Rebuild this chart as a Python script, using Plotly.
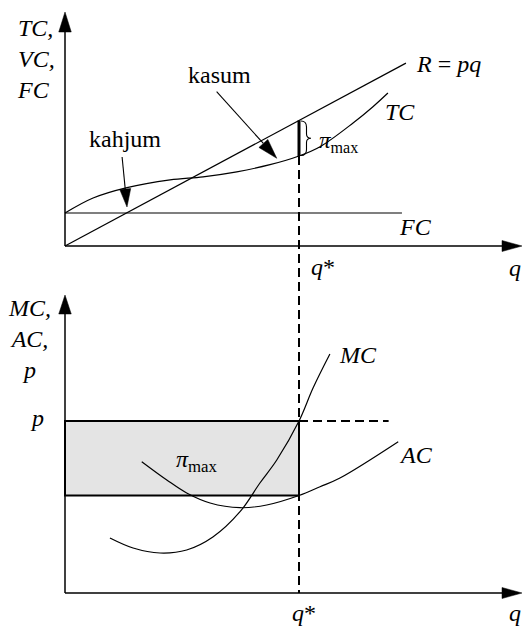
import plotly.graph_objects as go

# ---------------- data (q* = 10; values in arbitrary chart units) ----------------
q_star = 10.0
q_axis_end = 19.53          # end of both q axes
top_axis_end = 23.4         # top of the TC,VC,FC axis
bot_axis_end = 29.8         # top of the MC,AC,p axis

# Top panel
fc_q = [0.0, 14.4]
fc_v = [3.3, 3.3]
r_q = [0.0, 14.57]
r_v = [0.0, 18.29]
tc_q = [0.0, 1.20, 2.65, 4.49, 5.90, 7.34, 8.76, 10.0, 10.90, 12.31, 13.16, 13.80]
tc_v = [3.3, 4.8, 5.84, 6.61, 6.92, 7.42, 8.13, 9.0, 9.93, 12.3, 13.93, 15.3]

# Bottom panel
price_p = 17.2
p_dash_end = 13.83
ac_q = [3.28, 4.35, 5.20, 6.20, 7.48, 8.62, 10.0, 10.90, 11.75, 14.24]
ac_v = [13.13, 11.3, 10.0, 9.0, 8.53, 8.8, 9.75, 10.63, 11.5, 15.13]
mc_q = [1.92, 2.91, 4.06, 5.20, 6.32, 7.48, 8.33, 9.05, 10.0, 10.60, 11.32]
mc_v = [5.5, 4.5, 4.0, 4.3, 5.6, 8.13, 11.0, 13.3, 17.2, 20.5, 23.9]

# arrows for "kahjum" / "kasum" (tail -> tip, top-panel units)
kahjum_tail, kahjum_tip = (2.44, 8.9), (2.65, 3.9)
kasum_tail, kasum_tip = (6.48, 15.43), (9.05, 8.77)

# ---------------- geometry ----------------
W, H = 523, 632
XU = 23.4      # px per q unit
YU = 10.0      # px per value unit
SPLIT = 290    # px boundary between panels
X_RANGE = [-65 / XU, (W - 65) / XU]
TOP_RANGE = [(246 - SPLIT) / YU, 246 / YU]
BOT_RANGE = [(593 - H) / YU, (593 - SPLIT) / YU]
dom_split = 1 - SPLIT / H

FONT = "Liberation Serif, Times New Roman, serif"
BLACK = "#000000"


def paper_top(v):
    return dom_split + (v - TOP_RANGE[0]) / (TOP_RANGE[1] - TOP_RANGE[0]) * (1 - dom_split)


def paper_bot(v):
    return (v - BOT_RANGE[0]) / (BOT_RANGE[1] - BOT_RANGE[0]) * dom_split


def head(tip, tail, L=19.0, Wd=12.0):
    dxp = (tip[0] - tail[0]) * XU
    dyp = (tip[1] - tail[1]) * YU
    n = (dxp ** 2 + dyp ** 2) ** 0.5
    ux, uy = dxp / n, dyp / n
    bx, by = -ux * L, -uy * L
    nx, ny = -uy, ux
    pts = [(0, 0), (bx + nx * Wd / 2, by + ny * Wd / 2), (bx - nx * Wd / 2, by - ny * Wd / 2)]
    path = "M " + " L ".join(f"{tip[0] + a / XU:.4f},{tip[1] + b / YU:.4f}" for a, b in pts) + " Z"
    base = (tip[0] + bx / XU, tip[1] + by / YU)
    return path, base


shapes = []


def arrow(tail, tip, xr, yr, width=1.3, L=19.0, Wd=12.0):
    path, base = head(tip, tail, L, Wd)
    shapes.append(dict(type="line", xref=xr, yref=yr, x0=tail[0], y0=tail[1], x1=base[0], y1=base[1],
                       line=dict(color=BLACK, width=width)))
    shapes.append(dict(type="path", xref=xr, yref=yr, path=path, fillcolor=BLACK,
                       line=dict(color=BLACK, width=0.5)))


fig = go.Figure()

# ---- curves ----
line_style = dict(color=BLACK, width=1.2)
spline_style = dict(color=BLACK, width=1.2, shape="spline", smoothing=1.0)
fig.add_trace(go.Scatter(x=fc_q, y=fc_v, mode="lines", line=line_style, xaxis="x", yaxis="y", hoverinfo="skip"))
fig.add_trace(go.Scatter(x=r_q, y=r_v, mode="lines", line=line_style, xaxis="x", yaxis="y", hoverinfo="skip"))
fig.add_trace(go.Scatter(x=tc_q, y=tc_v, mode="lines", line=spline_style, xaxis="x", yaxis="y", hoverinfo="skip"))
fig.add_trace(go.Scatter(x=ac_q, y=ac_v, mode="lines", line=spline_style, xaxis="x2", yaxis="y2", hoverinfo="skip"))
fig.add_trace(go.Scatter(x=mc_q, y=mc_v, mode="lines", line=spline_style, xaxis="x2", yaxis="y2", hoverinfo="skip"))

# ---- axes with arrowheads ----
arrow((0, 0), (0, top_axis_end), "x", "y", width=1.5, L=20, Wd=12.5)
arrow((0, 0), (q_axis_end, 0), "x", "y", width=1.5, L=20, Wd=11)
arrow((0, 0), (0, bot_axis_end), "x2", "y2", width=1.5, L=19, Wd=12.5)
arrow((0, 0), (q_axis_end, 0), "x2", "y2", width=1.5, L=20, Wd=11)

# ---- kahjum / kasum arrows ----
arrow(kahjum_tail, kahjum_tip, "x", "y", width=1.1, L=18, Wd=11)
arrow(kasum_tail, kasum_tip, "x", "y", width=1.1, L=20, Wd=12)

# ---- profit segment & brace ----
r_at_qs = r_v[1] / r_q[1] * q_star
tc_at_qs = tc_v[tc_q.index(q_star)]
shapes.append(dict(type="line", xref="x", yref="y", x0=q_star, x1=q_star, y0=tc_at_qs, y1=r_at_qs,
                   line=dict(color=BLACK, width=3)))


def bp(dx, v):
    return f"{q_star + dx / XU:.4f},{v:.4f}"


top_v = r_at_qs - 0.05
bot_v = tc_at_qs + 0.05
mid_v = (top_v + bot_v) / 2
k = 0.6
brace = (f"M {bp(2, top_v)} Q {bp(7.5, top_v)} {bp(7.5, top_v - k)} "
         f"L {bp(7.5, mid_v + k * 0.7)} Q {bp(7.5, mid_v)} {bp(12, mid_v)} "
         f"Q {bp(7.5, mid_v)} {bp(7.5, mid_v - k * 0.7)} "
         f"L {bp(7.5, bot_v + k)} Q {bp(7.5, bot_v)} {bp(2, bot_v)}")
shapes.append(dict(type="path", xref="x", yref="y", path=brace, line=dict(color=BLACK, width=1.1)))

# ---- dashed q* line across both panels ----
shapes.append(dict(type="line", xref="x", yref="paper", x0=q_star, x1=q_star,
                   y0=paper_top(tc_at_qs), y1=paper_bot(0),
                   line=dict(color=BLACK, width=2, dash="9px,5px")))

# ---- profit rectangle & price dash ----
ac_at_qs = ac_v[ac_q.index(q_star)]
shapes.append(dict(type="rect", xref="x2", yref="y2", x0=0, x1=q_star, y0=ac_at_qs, y1=price_p,
                   fillcolor="#e4e4e4", line=dict(color=BLACK, width=2), layer="below"))
shapes.append(dict(type="line", xref="x2", yref="y2", x0=q_star, x1=p_dash_end, y0=price_p, y1=price_p,
                   line=dict(color=BLACK, width=2, dash="9px,5px")))


# ---- annotations ----
def ann(text, x, y, xr, yr, xanchor="center", yanchor="middle", size=25, align="center"):
    return dict(text=text, x=x, y=y, xref=xr, yref=yr, xanchor=xanchor, yanchor=yanchor, showarrow=False,
                align=align, font=dict(family=FONT, size=size, color=BLACK))


annotations = [
    ann("<i>TC,</i><br><i>VC,</i><br><i>FC</i>", 15 / W, paper_top(18.7), "paper", "paper",
        xanchor="left", align="left", size=24),
    ann("kahjum", 2.585, 10.7, "x", "y", size=24),
    ann("kasum", 6.62, 17.1, "x", "y", size=24),
    ann("<i>R</i> = <i>pq</i>", 16.37, 18.2, "x", "y", size=24),
    ann("<i>TC</i>", 14.32, 13.4, "x", "y", size=24),
    ann("<i>FC</i>", 14.96, 1.9, "x", "y", size=24),
    ann("<i>q</i>*", 11.03, -2.1, "x", "y", size=24),
    ann("<i>q</i>", 19.23, -2.2, "x", "y", size=24),
    ann("<i>π</i><sub>max</sub>", 10.78, 10.4, "x", "y", xanchor="left", size=23),
    ann("<i>MC,</i><br><i>AC,</i><br><i>p</i>", -1.496, 25.4, "x2", "y2", size=24),
    ann("<i>p</i>", -1.197, 17.5, "x2", "y2", size=24),
    ann("<i>MC</i>", 12.52, 23.8, "x2", "y2", size=24),
    ann("<i>AC</i>", 15.0, 13.8, "x2", "y2", size=24),
    ann("<i>π</i><sub>max</sub>", 5.64, 13.2, "x2", "y2", size=24),
    ann("<i>q</i>*", 10.21, -2.0, "x2", "y2", size=24),
    ann("<i>q</i>", 19.23, -2.0, "x2", "y2", size=24),
]

hidden = dict(visible=False, showgrid=False, zeroline=False, fixedrange=True)
fig.update_layout(
    width=W, height=H,
    margin=dict(l=0, r=0, t=0, b=0),
    paper_bgcolor="white", plot_bgcolor="white",
    showlegend=False,
    xaxis=dict(domain=[0, 1], range=X_RANGE, anchor="y", **hidden),
    yaxis=dict(domain=[dom_split, 1], range=TOP_RANGE, anchor="x", **hidden),
    xaxis2=dict(domain=[0, 1], range=X_RANGE, anchor="y2", **hidden),
    yaxis2=dict(domain=[0, dom_split], range=BOT_RANGE, anchor="x2", **hidden),
    shapes=shapes,
    annotations=annotations,
    font=dict(family=FONT, color=BLACK),
)

fig.write_html("out.html", config={"displayModeBar": False},
               post_script="document.body.style.margin='0';")
